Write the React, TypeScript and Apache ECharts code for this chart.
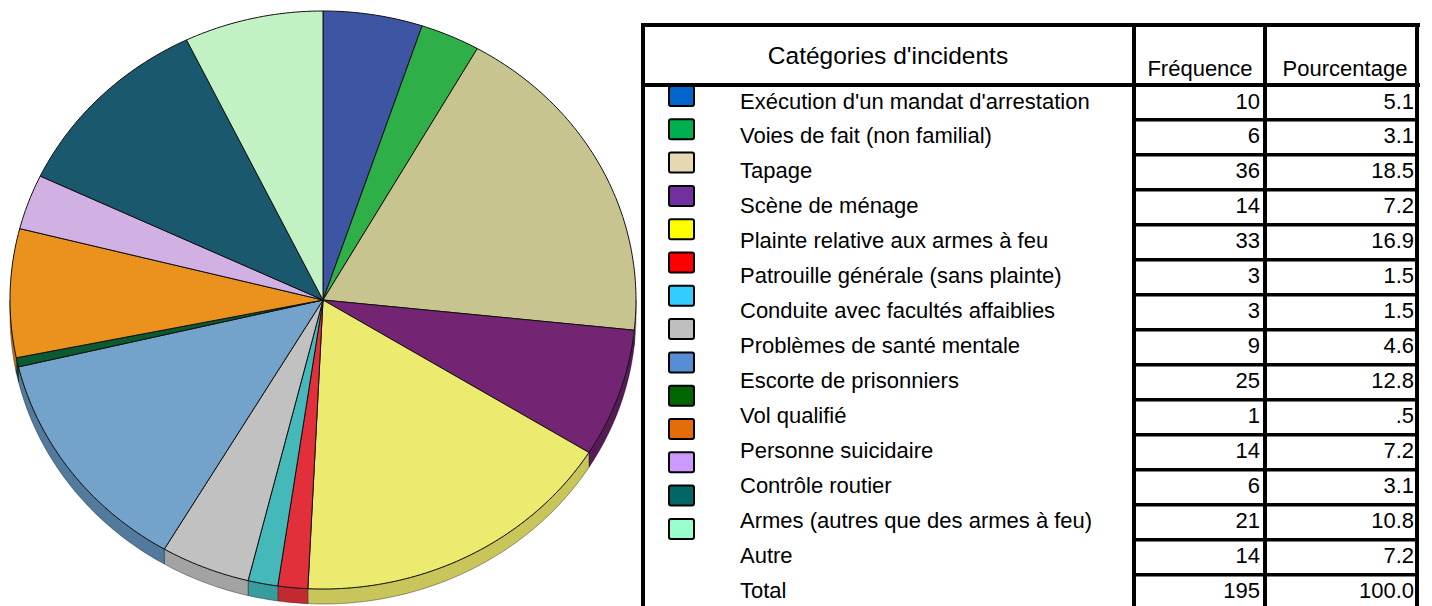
import React, { useEffect, useRef } from "react";
import * as echarts from "echarts";

const categories = [
  "Exécution d'un mandat d'arrestation",
  "Voies de fait (non familial)",
  "Tapage",
  "Scène de ménage",
  "Plainte relative aux armes à feu",
  "Patrouille générale (sans plainte)",
  "Conduite avec facultés affaiblies",
  "Problèmes de santé mentale",
  "Escorte de prisonniers",
  "Vol qualifié",
  "Personne suicidaire",
  "Contrôle routier",
  "Armes (autres que des armes à feu)",
  "Autre",
];
const frequencies = [10, 6, 36, 14, 33, 3, 3, 9, 25, 1, 14, 6, 21, 14];
const percentages = [5.1, 3.1, 18.5, 7.2, 16.9, 1.5, 1.5, 4.6, 12.8, 0.5, 7.2, 3.1, 10.8, 7.2];
const totalLabel = "Total";
const totalFrequency = 195;
const totalPercentage = 100.0;
const headerCategory = "Catégories d'incidents";
const headerFrequency = "Fréquence";
const headerPercentage = "Pourcentage";

const pieColors = [
  "#3D55A3", "#2EAF47", "#C8C48F", "#732473", "#EDEB6F", "#E2303A", "#45B9BA",
  "#C1C1C1", "#73A2CA", "#0A5B30", "#EA911E", "#D1B1E3", "#1A586E", "#C2F2C4",
];
const sideColors = [
  "#2E4180", "#238A37", "#A3A06E", "#561A56", "#C8C55B", "#C22A31", "#389C9E",
  "#A3A3A3", "#527A9C", "#073F21", "#C07516", "#AA8FBA", "#123F50", "#9FC9A1",
];
const swatchColors = [
  "#0066CC", "#00B050", "#E6D8B2", "#7030A0", "#FFFF00", "#FF0000", "#33CCFF",
  "#BFBFBF", "#558ED5", "#006600", "#E46C0A", "#CC99FF", "#006666", "#99FFCC",
];

const CX = 323;
const CY = 300;
const RX = 313;
const RY = 289;
const DEPTH = 15;
const FONT = "'Liberation Sans', Arial, sans-serif";

function fmtPct(v: number): string {
  const s = v.toFixed(1);
  return s.startsWith("0.") ? s.slice(1) : s;
}

function ellPt(deg: number, dy = 0): number[] {
  const r = (deg * Math.PI) / 180;
  return [CX + RX * Math.sin(r), CY - RY * Math.cos(r) + dy];
}

export default function App() {
  const ref = useRef<HTMLDivElement>(null);
  useEffect(() => {
    document.body.style.margin = "0";
    document.body.style.overflow = "hidden";
    if (!ref.current) return;
    const chart = echarts.init(ref.current, undefined, { renderer: "svg" });

    const total = frequencies.reduce((a, b) => a + b, 0);
    let acc = 0;
    const slices = frequencies.map((f, i) => {
      const a0 = (acc / total) * 360;
      acc += f;
      const a1 = (acc / total) * 360;
      return { name: categories[i], value: [a0, a1, f], idx: i };
    });

    const topData = slices.map((s) => ({ name: s.name, value: s.value, itemStyle: { color: pieColors[s.idx] } }));
    const sideData = slices.map((s) => ({ name: s.name, value: s.value, itemStyle: { color: sideColors[s.idx] } }));

    const graphics: any[] = [];
    swatchColors.forEach((c, k) => {
      graphics.push({
        type: "rect",
        shape: { x: 669, y: 86 + 33.3 * k, width: 25, height: 20, r: 2 },
        style: { fill: c, stroke: "#000", lineWidth: 2 },
        z: 1,
      });
    });
    const rowsLabel = [...categories, totalLabel];
    const rowsFreq = [...frequencies, totalFrequency];
    const rowsPct = [...percentages.map(fmtPct), totalPercentage.toFixed(1)];
    rowsLabel.forEach((t, k) => {
      const y = 101 + 34.95 * k;
      graphics.push({
        type: "text",
        style: { text: t, x: 740, y, font: `22px ${FONT}`, fill: "#000", textAlign: "left", textVerticalAlign: "middle" },
        z: 2,
      });
      graphics.push({
        type: "text",
        style: { text: String(rowsFreq[k]), x: 1260, y, font: `22px ${FONT}`, fill: "#000", textAlign: "right", textVerticalAlign: "middle" },
        z: 2,
      });
      graphics.push({
        type: "text",
        style: { text: rowsPct[k], x: 1414, y, font: `22px ${FONT}`, fill: "#000", textAlign: "right", textVerticalAlign: "middle" },
        z: 2,
      });
    });
    graphics.push({
      type: "text",
      style: { text: headerCategory, x: 888, y: 55, font: `24.5px ${FONT}`, fill: "#000", textAlign: "center", textVerticalAlign: "middle" },
      z: 2,
    });
    graphics.push({
      type: "text",
      style: { text: headerFrequency, x: 1200, y: 68, font: `22px ${FONT}`, fill: "#000", textAlign: "center", textVerticalAlign: "middle" },
      z: 2,
    });
    graphics.push({
      type: "text",
      style: { text: headerPercentage, x: 1345, y: 68, font: `22px ${FONT}`, fill: "#000", textAlign: "center", textVerticalAlign: "middle" },
      z: 2,
    });
    const lineRect = (x: number, y: number, w: number, h: number) =>
      graphics.push({ type: "rect", shape: { x, y, width: w, height: h }, style: { fill: "#000" }, z: 3 });
    lineRect(641, 23, 779, 4);
    lineRect(641, 83, 779, 4);
    lineRect(641, 23, 4, 600);
    lineRect(1132, 23, 4, 600);
    lineRect(1263, 23, 4, 600);
    lineRect(1415, 23, 4, 600);
    for (let k = 1; k <= 14; k++) {
      lineRect(1132, 83 + 35 * k, 287, 3.5);
    }

    chart.setOption({
      animation: false,
      backgroundColor: "#fff",
      series: [
        {
          type: "custom",
          coordinateSystem: "none",
          z: 1,
          silent: true,
          data: sideData,
          renderItem: (params: any, api: any) => {
            const a0 = api.value(0) as number;
            const a1 = api.value(1) as number;
            const s = Math.max(a0, 90);
            const e = Math.min(a1, 270);
            if (e <= s) return { type: "group", children: [] };
            const n = Math.max(2, Math.ceil(e - s));
            const pts: number[][] = [];
            for (let i = 0; i <= n; i++) pts.push(ellPt(s + ((e - s) * i) / n));
            for (let i = n; i >= 0; i--) pts.push(ellPt(s + ((e - s) * i) / n, DEPTH));
            return {
              type: "polygon",
              shape: { points: pts },
              style: { fill: api.visual("color"), stroke: "rgba(0,0,0,0.45)", lineWidth: 0.8 },
            };
          },
        },
        {
          type: "custom",
          coordinateSystem: "none",
          z: 2,
          silent: true,
          data: topData,
          renderItem: (params: any, api: any) => {
            const a0 = api.value(0) as number;
            const a1 = api.value(1) as number;
            const n = Math.max(2, Math.ceil(a1 - a0));
            const pts: number[][] = [[CX, CY]];
            for (let i = 0; i <= n; i++) pts.push(ellPt(a0 + ((a1 - a0) * i) / n));
            return {
              type: "polygon",
              shape: { points: pts },
              style: { fill: api.visual("color"), stroke: "#111", lineWidth: 1, lineJoin: "round" },
            };
          },
        },
      ],
      graphic: { elements: graphics },
    });
    return () => chart.dispose();
  }, []);
  return <div ref={ref} style={{ width: 1432, height: 606 }} />;
}
